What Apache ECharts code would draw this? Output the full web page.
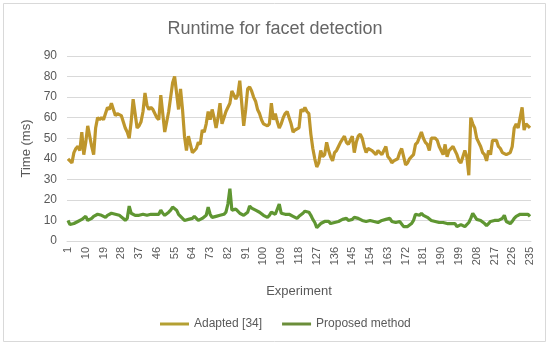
<!DOCTYPE html>
<html>
<head>
<meta charset="utf-8">
<script src="https://cdn.jsdelivr.net/npm/echarts@6/dist/echarts.min.js"></script>
<style>html,body{margin:0;padding:0;background:#fff;}#c{width:550px;height:346px;}</style>
</head>
<body>
<div id="c"></div>
<script>
const titleText = "Runtime for facet detection";
const seriesNames = ["Adapted [34]", "Proposed method"];
const yTicks = [0, 10, 20, 30, 40, 50, 60, 70, 80, 90];

const adapted = [
40,39,38,43,45,46,44,53,42,48,
56,51,46,42,55,60,59,60,59,62,
65,64,67,64,61,62,62,61,58,55,
53,50,58,69,62,55,56,58,63,72,
66,64,65,64,64,60,59,71,62,53,
58,63,70,77,80,72,64,74,64,51,
44,51,47,43,44,45,48,47,54,53,
57,63,59,64,60,55,60,67,57,60,
63,63,67,73,71,69,71,78,67,56,
64,74,75,73,70,68,64,62,59,57,
57,56,57,67,59,62,58,55,57,60,
62,63,60,57,53,54,54,55,64,63,
65,63,62,52,45,40,36,38,44,41,
42,48,44,41,39,43,44,46,48,48,
51,48,47,49,51,43,48,51,52,50,
46,43,45,45,44,44,42,44,44,42,
44,46,41,40,38,39,39,40,43,45,
41,37,38,40,41,42,47,48,48,53,
50,48,47,44,50,50,50,49,46,44,
42,47,41,44,44,46,46,42,39,38,
41,44,41,32,60,57,55,50,48,46,
43,42,39,44,42,49,49,49,46,45,
43,43,42,42,43,46,55,57,55,55,
65,54,57,56,55
];

const proposed = [
10,8,7.5,8.5,9,9.5,10,10.5,11,12,
10,10.5,11,12,12.5,13,13,12.5,12,11.5,
12.5,13,13.5,13,13,13.5,12.5,12,11,10,
11,17,13.5,13,12.5,12.5,12.5,13,13,13.5,
12.5,13,13,12.5,13,13.5,13,15,13.5,12.5,
13,14,15,16.5,17,15,13,12.5,11,10,
10,10.5,10,11,12,11,10,10.5,11,11.5,
12.5,16.5,13,11.5,11.5,12,11.5,12.5,12.5,13,
14,18,25.5,15,14.5,15.5,14.5,13.5,13,12.5,
12.5,14,17,16,16.5,15,15,14,13.5,12.5,
12,11.5,12.5,14,13.5,13,13.5,18,13.5,13,
13,13.5,13,12.5,12,11.5,11,12,12.5,13.5,
14.5,15,14,12.5,10.5,9,6.5,6,8.5,9,
9.5,9,9.5,8.5,8.5,9,9.5,9.5,10,10.5,
10,11,10,9.5,10.5,11.5,11,11,10.5,10,
10,9.5,9.5,10,10,9.5,9.5,9,9.5,10,
10,10.5,11,11,9.5,9.5,9,9,9.5,9,
7,6.5,7,7.5,8.5,10,13,12.5,12.5,13.5,
12.5,12,11.5,11,10,10,9.5,9.5,9,8.5,
9,9.5,8.5,9,8.5,8.5,8.5,7,7.5,8,
7.5,7,7.5,9,11,13.5,12,10.5,10,10,
9.5,8.5,7.5,8.5,9.5,9.5,10,10,10,10.5,
11,12.5,9.5,9,8.5,9.5,11,12,12.5,13,
13.5,13,13.5,13,12
];

const categories = adapted.map((_, i) => String(i + 1));

const fontFam = "Liberation Sans, Arial, sans-serif";
const chart = echarts.init(document.getElementById('c'), null, {renderer: 'canvas'});
chart.setOption({
  animation: false,
  backgroundColor: '#ffffff',
  title: {
    text: titleText,
    left: 'center',
    top: 15,
    textStyle: {color: '#666666', fontSize: 18, fontWeight: 'normal', fontFamily: fontFam}
  },
  graphic: [{
    type: 'rect', shape: {x: 3.5, y: 3.5, width: 542, height: 338},
    style: {fill: 'none', stroke: '#d9d9d9', lineWidth: 1}, silent: true, z: -1
  }],
  legend: {
    data: seriesNames,
    left: 155,
    top: 313,
    icon: 'rect',
    itemWidth: 29,
    itemHeight: 3,
    itemGap: 20,
    textStyle: {color: '#595959', fontSize: 12, fontFamily: fontFam}
  },
  grid: {left: 67, right: 19, top: 56, bottom: 105, containLabel: false},
  xAxis: {
    type: 'category',
    data: categories,
    boundaryGap: true,
    name: 'Experiment',
    nameLocation: 'middle',
    nameGap: 44,
    nameTextStyle: {color: '#595959', fontSize: 13, fontFamily: fontFam},
    axisLine: {lineStyle: {color: '#d9d9d9'}},
    axisTick: {show: false},
    axisLabel: {interval: 8, rotate: 90, color: '#595959', fontSize: 11, fontFamily: fontFam, margin: 6}
  },
  yAxis: {
    type: 'value',
    min: yTicks[0],
    max: yTicks[yTicks.length - 1],
    interval: 10,
    name: 'Time (ms)',
    nameLocation: 'middle',
    nameGap: 34,
    nameTextStyle: {color: '#595959', fontSize: 13, fontFamily: fontFam},
    axisLine: {show: false},
    axisTick: {show: false},
    axisLabel: {color: '#595959', fontSize: 12, fontFamily: fontFam, margin: 10},
    splitLine: {lineStyle: {color: '#d9d9d9'}}
  },
  series: [
    {name: seriesNames[0], type: 'line', data: adapted, symbol: 'none',
     lineStyle: {width: 3.2, color: '#BE962C'}, itemStyle: {color: '#B4A033'}},
    {name: seriesNames[1], type: 'line', data: proposed, symbol: 'none',
     lineStyle: {width: 3.2, color: '#5F9632'}, itemStyle: {color: '#6B8E3A'}}
  ]
});
</script>
</body>
</html>
